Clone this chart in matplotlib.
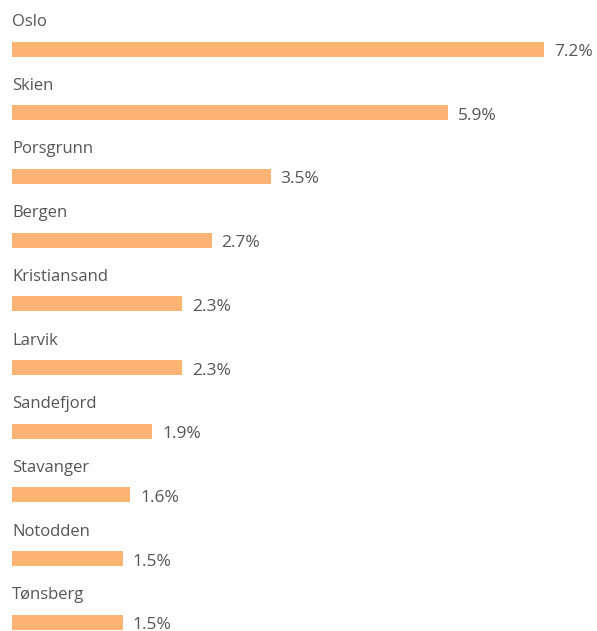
import matplotlib
matplotlib.use("Agg")
import matplotlib.pyplot as plt

# byer og andel (%)
cities = ["Oslo", "Skien", "Porsgrunn", "Bergen", "Kristiansand",
          "Larvik", "Sandefjord", "Stavanger", "Notodden", "Tønsberg"]
values = [7.2, 5.9, 3.5, 2.7, 2.3, 2.3, 1.9, 1.6, 1.5, 1.5]
value_labels = ["7.2%", "5.9%", "3.5%", "2.7%", "2.3%",
                "2.3%", "1.9%", "1.6%", "1.5%", "1.5%"]

plt.rcParams['font.family'] = ['Open Sans', 'DejaVu Sans']

W, H = 597, 631
fig = plt.figure(figsize=(W / 100, H / 100), dpi=100)
ax = fig.add_axes([0, 0, 1, 1])

px_per_unit = 73.9   # px pr. prosentpoeng
x0 = 12              # venstre kant av stolpene
row = 63.7           # px mellom rader
top = 49             # senter av første stolpe

ax.set_xlim(-x0 / px_per_unit, (W - x0) / px_per_unit)
ax.set_ylim((H - top) / row, -top / row)

pos = list(range(len(cities)))
ax.barh(pos, values, height=15 / row, color="#FBB474", edgecolor="none")

for i in pos:
    ax.text(0, i - 27 / row, cities[i], ha="left", va="center",
            fontsize=12, color="#555555")
    ax.text(values[i] + 10 / px_per_unit, i + 3 / row, value_labels[i],
            ha="left", va="center", fontsize=12.5, color="#555555")

ax.axis("off")
fig.savefig("out.png", dpi=100)
